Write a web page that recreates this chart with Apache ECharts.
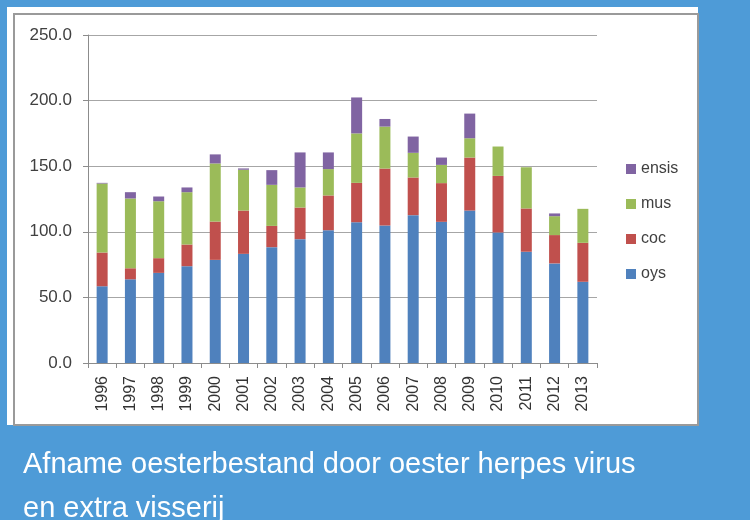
<!DOCTYPE html>
<html>
<head>
<meta charset="utf-8">
<script src="https://cdn.jsdelivr.net/npm/echarts@6/dist/echarts.min.js"></script>
<style>
html,body{margin:0;padding:0;background:#4e9bd7;}
#c{width:750px;height:520px;}
</style>
</head>
<body>
<div id="c"></div>
<script>
var years = ['1996','1997','1998','1999','2000','2001','2002','2003','2004','2005','2006','2007','2008','2009','2010','2011','2012','2013'];
var oys   = [58.5, 63.8, 68.7, 73.8, 78.6, 83.2, 88.3, 94.4, 101.2, 107.3, 104.8, 112.7, 107.6, 116.2, 99.5, 84.8, 75.9, 61.9];
var coc   = [25.7, 8.4, 11.2, 16.5, 29.2, 33.0, 16.2, 24.1, 26.5, 30.0, 43.4, 28.7, 29.5, 40.4, 43.1, 33.0, 21.6, 29.7];
var mus   = [52.6, 53.2, 43.4, 39.9, 44.3, 31.1, 31.3, 15.3, 20.1, 37.7, 32.0, 18.8, 13.9, 14.7, 22.4, 31.4, 14.4, 25.9];
var ensis = [0.5, 4.8, 3.6, 3.6, 6.9, 1.0, 11.2, 26.7, 12.7, 27.4, 5.8, 12.4, 5.6, 18.8, 0, 0, 2.1, 0];
var legendOrder = ['ensis','mus','coc','oys'];
var titleLines = ['Afname oesterbestand door oester herpes virus', 'en extra visserij'];

var chart = echarts.init(document.getElementById('c'), null, {renderer:'canvas'});
var labelFont = "'Liberation Sans', Arial, sans-serif";
function bar(name, data, color){
  return {name:name, type:'bar', stack:'total', data:data, barWidth:11,
          itemStyle:{color:color}, animation:false};
}
chart.setOption({
  backgroundColor:'#4e9bd7',
  animation:false,
  graphic:[
    {type:'rect', z:-10, shape:{x:14,y:14,width:684,height:411}, style:{fill:'#ffffff', stroke:'#9a9a9a', lineWidth:2}},
    {type:'rect', z:-9, shape:{x:7,y:7,width:691,height:6}, style:{fill:'#ffffff'}},
    {type:'rect', z:-9, shape:{x:7,y:7,width:6,height:418}, style:{fill:'#ffffff'}}
  ],
  title:{
    text: titleLines.join('\n'),
    left:23, top:443, padding:0,
    textStyle:{color:'#ffffff', fontSize:29, fontWeight:'normal', lineHeight:44,
      fontFamily:"'Liberation Sans', Arial, sans-serif"}
  },
  legend:{
    data:legendOrder, orient:'vertical', left:621, top:156,
    itemWidth:10, itemHeight:10, itemGap:19, icon:'rect',
    textStyle:{color:'#404040', fontSize:16, fontFamily:labelFont}
  },
  grid:{left:88, right:153, top:35, bottom:157},
  xAxis:{
    type:'category', data:years, boundaryGap:true,
    axisLine:{lineStyle:{color:'#8c8c8c', width:1}},
    axisTick:{show:true, length:5, lineStyle:{color:'#8c8c8c'}},
    axisLabel:{rotate:90, margin:13, color:'#333333', fontSize:16, fontFamily:labelFont, interval:0}
  },
  yAxis:{
    type:'value', min:0, max:250, interval:50,
    axisLine:{show:true, lineStyle:{color:'#8c8c8c'}},
    axisTick:{show:true, length:5, lineStyle:{color:'#8c8c8c'}},
    splitLine:{lineStyle:{color:'#a6a6a6', width:1}},
    axisLabel:{margin:16, color:'#404040', fontSize:17, fontFamily:labelFont,
      formatter:function(v){return v.toFixed(1);}}
  },
  series:[
    bar('oys', oys, '#4f81bd'),
    bar('coc', coc, '#c0504d'),
    bar('mus', mus, '#9bbb59'),
    bar('ensis', ensis, '#8064a2')
  ]
});
</script>
</body>
</html>
